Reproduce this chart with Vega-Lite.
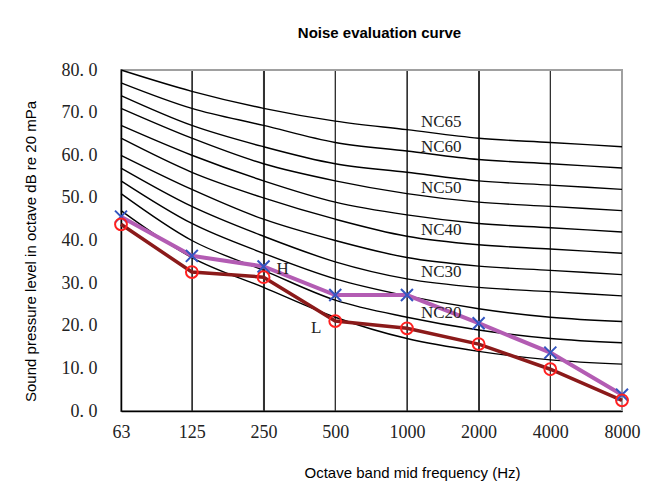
{
  "$schema": "https://vega.github.io/schema/vega-lite/v6.json",
  "width": 501,
  "height": 341,
  "autosize": {"type": "none"},
  "padding": {"left": 121, "top": 70, "right": 24, "bottom": 79},
  "background": "white",
  "title": {"text": "Noise evaluation curve", "font": "Liberation Sans", "fontSize": 15, "fontWeight": "bold", "color": "#000", "anchor": "middle", "dx": 8, "offset": 20},
  "config": {
    "view": {"stroke": "#a0a0a0", "strokeWidth": 2},
    "axis": {"domainColor": "#000", "domainWidth": 1.5}
  },
  "datasets": {
    "nc": [
      {"nc": "NC15", "f": 63, "v": 47}, {"nc": "NC15", "f": 125, "v": 36}, {"nc": "NC15", "f": 250, "v": 29}, {"nc": "NC15", "f": 500, "v": 22}, {"nc": "NC15", "f": 1000, "v": 17}, {"nc": "NC15", "f": 2000, "v": 14}, {"nc": "NC15", "f": 4000, "v": 12}, {"nc": "NC15", "f": 8000, "v": 11},
      {"nc": "NC20", "f": 63, "v": 51}, {"nc": "NC20", "f": 125, "v": 40}, {"nc": "NC20", "f": 250, "v": 33}, {"nc": "NC20", "f": 500, "v": 26}, {"nc": "NC20", "f": 1000, "v": 22}, {"nc": "NC20", "f": 2000, "v": 19}, {"nc": "NC20", "f": 4000, "v": 17}, {"nc": "NC20", "f": 8000, "v": 16},
      {"nc": "NC25", "f": 63, "v": 54}, {"nc": "NC25", "f": 125, "v": 44}, {"nc": "NC25", "f": 250, "v": 37}, {"nc": "NC25", "f": 500, "v": 31}, {"nc": "NC25", "f": 1000, "v": 27}, {"nc": "NC25", "f": 2000, "v": 24}, {"nc": "NC25", "f": 4000, "v": 22}, {"nc": "NC25", "f": 8000, "v": 21},
      {"nc": "NC30", "f": 63, "v": 57}, {"nc": "NC30", "f": 125, "v": 48}, {"nc": "NC30", "f": 250, "v": 41}, {"nc": "NC30", "f": 500, "v": 35}, {"nc": "NC30", "f": 1000, "v": 31}, {"nc": "NC30", "f": 2000, "v": 29}, {"nc": "NC30", "f": 4000, "v": 28}, {"nc": "NC30", "f": 8000, "v": 27},
      {"nc": "NC35", "f": 63, "v": 60}, {"nc": "NC35", "f": 125, "v": 52}, {"nc": "NC35", "f": 250, "v": 45}, {"nc": "NC35", "f": 500, "v": 40}, {"nc": "NC35", "f": 1000, "v": 36}, {"nc": "NC35", "f": 2000, "v": 34}, {"nc": "NC35", "f": 4000, "v": 33}, {"nc": "NC35", "f": 8000, "v": 32},
      {"nc": "NC40", "f": 63, "v": 64}, {"nc": "NC40", "f": 125, "v": 56}, {"nc": "NC40", "f": 250, "v": 50}, {"nc": "NC40", "f": 500, "v": 45}, {"nc": "NC40", "f": 1000, "v": 41}, {"nc": "NC40", "f": 2000, "v": 39}, {"nc": "NC40", "f": 4000, "v": 38}, {"nc": "NC40", "f": 8000, "v": 37},
      {"nc": "NC45", "f": 63, "v": 67}, {"nc": "NC45", "f": 125, "v": 60}, {"nc": "NC45", "f": 250, "v": 54}, {"nc": "NC45", "f": 500, "v": 49}, {"nc": "NC45", "f": 1000, "v": 46}, {"nc": "NC45", "f": 2000, "v": 44}, {"nc": "NC45", "f": 4000, "v": 43}, {"nc": "NC45", "f": 8000, "v": 42},
      {"nc": "NC50", "f": 63, "v": 71}, {"nc": "NC50", "f": 125, "v": 64}, {"nc": "NC50", "f": 250, "v": 58}, {"nc": "NC50", "f": 500, "v": 54}, {"nc": "NC50", "f": 1000, "v": 51}, {"nc": "NC50", "f": 2000, "v": 49}, {"nc": "NC50", "f": 4000, "v": 48}, {"nc": "NC50", "f": 8000, "v": 47},
      {"nc": "NC55", "f": 63, "v": 74}, {"nc": "NC55", "f": 125, "v": 67}, {"nc": "NC55", "f": 250, "v": 62}, {"nc": "NC55", "f": 500, "v": 58}, {"nc": "NC55", "f": 1000, "v": 56}, {"nc": "NC55", "f": 2000, "v": 54}, {"nc": "NC55", "f": 4000, "v": 53}, {"nc": "NC55", "f": 8000, "v": 52},
      {"nc": "NC60", "f": 63, "v": 77}, {"nc": "NC60", "f": 125, "v": 71}, {"nc": "NC60", "f": 250, "v": 67}, {"nc": "NC60", "f": 500, "v": 63}, {"nc": "NC60", "f": 1000, "v": 61}, {"nc": "NC60", "f": 2000, "v": 59}, {"nc": "NC60", "f": 4000, "v": 58}, {"nc": "NC60", "f": 8000, "v": 57},
      {"nc": "NC65", "f": 63, "v": 80}, {"nc": "NC65", "f": 125, "v": 75}, {"nc": "NC65", "f": 250, "v": 71}, {"nc": "NC65", "f": 500, "v": 68}, {"nc": "NC65", "f": 1000, "v": 66}, {"nc": "NC65", "f": 2000, "v": 64}, {"nc": "NC65", "f": 4000, "v": 63}, {"nc": "NC65", "f": 8000, "v": 62}
    ],
    "meas": [
      {"s": "H", "f": 63, "v": 45.6}, {"s": "H", "f": 125, "v": 36.4}, {"s": "H", "f": 250, "v": 33.9}, {"s": "H", "f": 500, "v": 27.2}, {"s": "H", "f": 1000, "v": 27.2}, {"s": "H", "f": 2000, "v": 20.6}, {"s": "H", "f": 4000, "v": 13.7}, {"s": "H", "f": 8000, "v": 3.8},
      {"s": "L", "f": 63, "v": 43.8}, {"s": "L", "f": 125, "v": 32.6}, {"s": "L", "f": 250, "v": 31.4}, {"s": "L", "f": 500, "v": 21.1}, {"s": "L", "f": 1000, "v": 19.4}, {"s": "L", "f": 2000, "v": 15.7}, {"s": "L", "f": 4000, "v": 9.8}, {"s": "L", "f": 8000, "v": 2.5}
    ],
    "nclab": [
      {"t": "NC65", "f": 1000, "v": 67.9},
      {"t": "NC60", "f": 1000, "v": 62.0},
      {"t": "NC50", "f": 1000, "v": 52.3},
      {"t": "NC40", "f": 1000, "v": 42.5},
      {"t": "NC30", "f": 1000, "v": 32.7},
      {"t": "NC20", "f": 1000, "v": 23.0}
    ],
    "slab": [
      {"t": "H", "f": 250, "v": 33.3},
      {"t": "L", "f": 500, "v": 19.5}
    ],
    "vgrid": [
      {"g": "125", "f": 125, "v": 0}, {"g": "125", "f": 125, "v": 80},
      {"g": "250", "f": 250, "v": 0}, {"g": "250", "f": 250, "v": 80},
      {"g": "500", "f": 500, "v": 0}, {"g": "500", "f": 500, "v": 80},
      {"g": "1000", "f": 1000, "v": 0}, {"g": "1000", "f": 1000, "v": 80},
      {"g": "2000", "f": 2000, "v": 0}, {"g": "2000", "f": 2000, "v": 80},
      {"g": "4000", "f": 4000, "v": 0}, {"g": "4000", "f": 4000, "v": 80}
    ],
    "frame": [
      {"o": 1, "f": 63, "v": 80}, {"o": 2, "f": 8000, "v": 80}, {"o": 3, "f": 8000, "v": 0}
    ],
    "gridy": [{"v": 10}, {"v": 20}, {"v": 30}, {"v": 40}, {"v": 50}, {"v": 60}, {"v": 70}],
    "minor": [
      {"v": 2}, {"v": 4}, {"v": 6}, {"v": 8}, {"v": 12}, {"v": 14}, {"v": 16}, {"v": 18},
      {"v": 22}, {"v": 24}, {"v": 26}, {"v": 28}, {"v": 32}, {"v": 34}, {"v": 36}, {"v": 38},
      {"v": 42}, {"v": 44}, {"v": 46}, {"v": 48}, {"v": 52}, {"v": 54}, {"v": 56}, {"v": 58},
      {"v": 62}, {"v": 64}, {"v": 66}, {"v": 68}, {"v": 72}, {"v": 74}, {"v": 76}, {"v": 78}
    ]
  },
  "encoding": {
    "x": {
      "field": "f", "type": "quantitative",
      "scale": {"type": "log", "base": 2, "domain": [63, 8000], "nice": false},
      "axis": {
        "title": "Octave band mid frequency (Hz)", "values": [63, 125, 250, 500, 1000, 2000, 4000, 8000], "format": "d",
        "labelAngle": 0, "ticks": false, "labelPadding": 12, "labelFlush": false, "labelOverlap": false,
        "labelFont": "Liberation Serif", "labelFontSize": 18, "labelColor": "#222",
        "grid": true, "gridColor": "#333", "gridWidth": 1,
        "titleFont": "Liberation Sans", "titleFontSize": 15, "titleFontWeight": "normal", "titleColor": "#000",
        "titleX": 291, "titleY": 61, "titleAlign": "center", "titleBaseline": "middle"
      }
    },
    "y": {
      "field": "v", "type": "quantitative", "scale": {"domain": [0, 80], "nice": false},
      "axis": {
        "orient": "left",
        "values": [0, 10, 20, 30, 40, 50, 60, 70, 80],
        "ticks": false, "labelPadding": 24,
        "labelExpr": "replace(format(datum.value, '.1f'), '.', '. ')",
        "labelFont": "Liberation Serif", "labelFontSize": 18, "labelColor": "#222",
        "grid": false,
        "title": "Sound pressure level in octave dB re 20 mPa",
        "titleFont": "Liberation Sans", "titleFontSize": 15, "titleFontWeight": "normal", "titleColor": "#000",
        "titleX": -91, "titleY": 181, "titleAngle": -90, "titleAlign": "center", "titleBaseline": "middle"
      }
    }
  },
  "layer": [
    {
      "data": {"name": "vgrid"},
      "mark": {"type": "line", "color": "#333", "strokeWidth": 1.2},
      "encoding": {"detail": {"field": "g"}, "order": {"field": "v"}}
    },
    {
      "data": {"name": "gridy"},
      "mark": {"type": "rule", "color": "#333", "strokeWidth": 1},
      "encoding": {"x": {"datum": 63}, "x2": {"datum": 8000}}
    },
    {
      "data": {"name": "frame"},
      "mark": {"type": "line", "color": "#a0a0a0", "strokeWidth": 2},
      "encoding": {"order": {"field": "o"}}
    },
    {
      "data": {"name": "minor"},
      "mark": {"type": "rule", "color": "#222", "strokeWidth": 1},
      "encoding": {"x": {"datum": 63}, "x2": {"datum": 66}}
    },
    {
      "data": {"name": "nc"},
      "mark": {"type": "line", "interpolate": "monotone", "color": "#000", "strokeWidth": 1.4},
      "encoding": {"detail": {"field": "nc"}}
    },
    {
      "data": {"name": "meas"},
      "transform": [{"filter": "datum.s === 'H'"}],
      "mark": {"type": "line", "color": "#b35cb3", "strokeWidth": 4}
    },
    {
      "data": {"name": "meas"},
      "transform": [{"filter": "datum.s === 'L'"}],
      "mark": {"type": "line", "color": "#8b1a1a", "strokeWidth": 3.5}
    },
    {
      "data": {"name": "meas"},
      "transform": [{"filter": "datum.s === 'H'"}],
      "mark": {"type": "point", "shape": "M-1,-1L1,1M-1,1L1,-1", "filled": false, "stroke": "#3355c0", "strokeWidth": 2, "size": 144, "opacity": 1}
    },
    {
      "data": {"name": "meas"},
      "transform": [{"filter": "datum.s === 'L'"}],
      "mark": {"type": "point", "shape": "circle", "filled": false, "stroke": "#ff2020", "strokeWidth": 2, "size": 140, "opacity": 1}
    },
    {
      "data": {"name": "nclab"},
      "mark": {"type": "text", "align": "left", "baseline": "middle", "dx": 14, "font": "Liberation Serif", "fontSize": 17, "color": "#222"},
      "encoding": {"text": {"field": "t"}}
    },
    {
      "data": {"name": "slab"},
      "transform": [{"filter": "datum.t === 'H'"}],
      "mark": {"type": "text", "align": "center", "baseline": "middle", "dx": 19, "font": "Liberation Serif", "fontSize": 17, "color": "#222"},
      "encoding": {"text": {"field": "t"}}
    },
    {
      "data": {"name": "slab"},
      "transform": [{"filter": "datum.t === 'L'"}],
      "mark": {"type": "text", "align": "center", "baseline": "middle", "dx": -19, "font": "Liberation Serif", "fontSize": 17, "color": "#222"},
      "encoding": {"text": {"field": "t"}}
    }
  ]
}
